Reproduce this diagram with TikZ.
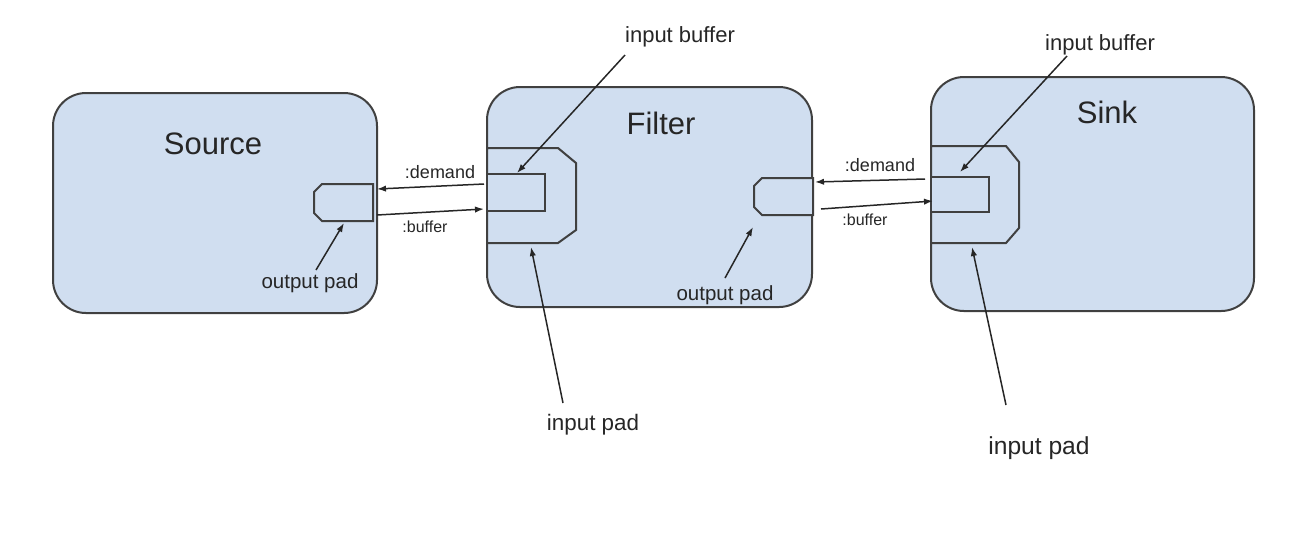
\documentclass[tikz,border=0pt]{standalone}
\usepackage{fontspec}
\setmainfont{Liberation Sans}
\usetikzlibrary{arrows.meta}
\definecolor{elemfill}{RGB}{208,222,240}
\definecolor{elemline}{RGB}{64,64,64}
\definecolor{labeltext}{RGB}{38,38,38}
\begin{document}
\begin{tikzpicture}[x=0.5pt, y=-0.5pt,
        element/.style={rectangle, rounded corners=16.5pt, draw=elemline, fill=elemfill, line width=1pt},
        padline/.style={draw=elemline, fill=elemfill, line width=1pt},
        bufbox/.style={rectangle, draw=elemline, fill=elemfill, line width=1pt, minimum width=29pt, inner sep=0pt},
        title/.style={text=labeltext, font=\fontsize{15.5}{18}\selectfont},
        note/.style={text=labeltext, inner sep=0pt},
        flow/.style={-{Latex[length=4.5pt,width=3.2pt]}, draw=black!85, line width=0.75pt}]
        \useasboundingbox (0,0) rectangle (1312,538);

        \node (source) [element, minimum width=162pt, minimum height=110pt] at (215,203) {};
        \node (filter) [element, minimum width=162.5pt, minimum height=110pt] at (649.5,197) {};
        \node (sink) [element, minimum width=161.5pt, minimum height=117pt] at (1092.5,194) {};

        \node (sourcetitle) [title] at (213,144) {Source};
        \node (filtertitle) [title] at (661,123) {Filter};
        \node (sinktitle) [title] at (1107,112) {Sink};

        \draw[padline] (373,184) -- (322,184) -- (314,192) -- (314,213) -- (322,221) -- (373,221) -- cycle;
        \draw[padline] (813,178) -- (762,178) -- (754,186) -- (754,207) -- (762,215) -- (813,215) -- cycle;
        \draw[padline] (487,148) -- (558,148) -- (576,163) -- (576,230) -- (558,243) -- (487,243) -- cycle;
        \draw[padline] (931,146) -- (1006,146) -- (1019,162) -- (1019,228) -- (1006,243) -- (931,243) -- cycle;
        \node (filterbuf) [bufbox, minimum height=18.5pt] at (516,192.5) {};
        \node (sinkbuf) [bufbox, minimum height=17.5pt] at (960,194.5) {};

        \coordinate (srcdemand) at (377,189);
        \coordinate (srcbuffer) at (377,215);
        \coordinate (fltdemand) at (484,184);
        \coordinate (fltbuffer) at (484,209);
        \coordinate (fltoutdemand) at (815,182);
        \coordinate (fltoutbuffer) at (821,209);
        \coordinate (snkdemand) at (925,179);
        \coordinate (snkbuffer) at (933,201);

        \draw[flow] (fltdemand) -- (srcdemand);
        \draw[flow] (srcbuffer) -- (fltbuffer);
        \draw[flow] (snkdemand) -- (fltoutdemand);
        \draw[flow] (fltoutbuffer) -- (snkbuffer);

        \node (demandA) [note, font=\fontsize{9}{11}\selectfont] at (440,172) {:demand};
        \node (bufferA) [note, font=\fontsize{8}{10}\selectfont] at (425,227) {:buffer};
        \node (demandB) [note, font=\fontsize{9}{11}\selectfont] at (880,165) {:demand};
        \node (bufferB) [note, font=\fontsize{8}{10}\selectfont] at (865,220) {:buffer};

        \node (srcoutlabel) [note, font=\fontsize{10.25}{12}\selectfont] at (310,283) {output pad};
        \node (fltoutlabel) [note, font=\fontsize{10.25}{12}\selectfont] at (725,295) {output pad};
        \node (fltbuflabel) [note, font=\fontsize{11}{13}\selectfont] at (680,37) {input buffer};
        \node (snkbuflabel) [note, font=\fontsize{11}{13}\selectfont] at (1100,45) {input buffer};
        \node (fltinlabel) [note, font=\fontsize{11.2}{13}\selectfont] at (593,425) {input pad};
        \node (snkinlabel) [note, font=\fontsize{12.3}{14}\selectfont] at (1039,448) {input pad};

        \coordinate (srcouttail) at (316,270);
        \coordinate (srcouthead) at (344,223);
        \coordinate (fltouttail) at (725,278);
        \coordinate (fltouthead) at (753,227);
        \coordinate (fltbuftail) at (625,55);
        \coordinate (fltbufhead) at (517,173);
        \coordinate (snkbuftail) at (1067,56);
        \coordinate (snkbufhead) at (960,172);
        \coordinate (fltintail) at (563,403);
        \coordinate (fltinhead) at (531,247);
        \coordinate (snkintail) at (1006,405);
        \coordinate (snkinhead) at (972,247);

        \draw[flow] (srcouttail) -- (srcouthead);
        \draw[flow] (fltouttail) -- (fltouthead);
        \draw[flow] (fltbuftail) -- (fltbufhead);
        \draw[flow] (snkbuftail) -- (snkbufhead);
        \draw[flow] (fltintail) -- (fltinhead);
        \draw[flow] (snkintail) -- (snkinhead);
    \end{tikzpicture}
\end{document}
